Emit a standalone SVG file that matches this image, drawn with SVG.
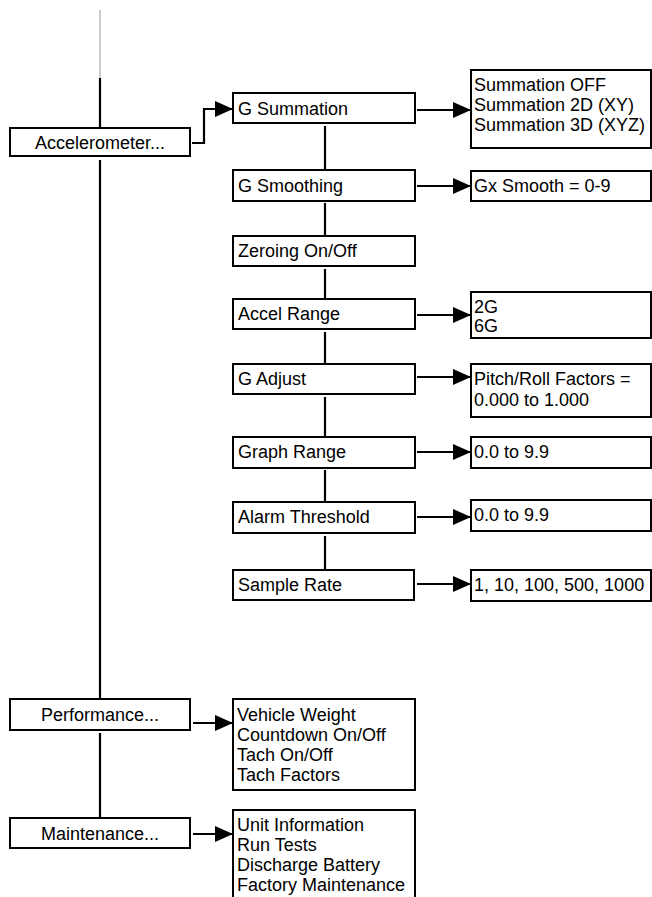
<svg xmlns="http://www.w3.org/2000/svg" width="652" height="897" viewBox="0 0 652 897">
<style>
.box{fill:#fff;stroke:#000;stroke-width:2}
.t{font-family:"Liberation Sans",Arial,sans-serif;font-size:18px;fill:#000}
.c{text-anchor:middle}
.ln{fill:none;stroke:#000;stroke-width:2.2}
</style>
<defs>
<marker id="ah" markerUnits="userSpaceOnUse" markerWidth="18" markerHeight="18" viewBox="0 0 18 18" refX="18" refY="9" orient="auto">
<path d="M0,1 L18,9 L0,17 Z" fill="#000"/>
</marker>
</defs>
<rect width="652" height="897" fill="#fff"/>
<g id="connectors">
<line x1="100" y1="10" x2="100" y2="78" stroke="#999" stroke-width="1"/>
<line class="ln" x1="100" y1="78" x2="100" y2="128"/>
<line class="ln" x1="100" y1="160" x2="100" y2="699"/>
<line class="ln" x1="100" y1="733" x2="100" y2="818"/>
<polyline class="ln" points="192,143 204,143 204,109 233,109" marker-end="url(#ah)"/>
<line class="ln" x1="325" y1="126" x2="325" y2="169"/>
<line class="ln" x1="325" y1="203" x2="325" y2="235"/>
<line class="ln" x1="325" y1="269" x2="325" y2="298"/>
<line class="ln" x1="325" y1="332" x2="325" y2="363"/>
<line class="ln" x1="325" y1="397" x2="325" y2="436"/>
<line class="ln" x1="325" y1="470" x2="325" y2="501"/>
<line class="ln" x1="325" y1="536" x2="325" y2="569"/>
<line class="ln" x1="417" y1="110" x2="471" y2="110" marker-end="url(#ah)"/>
<line class="ln" x1="417" y1="186" x2="471" y2="186" marker-end="url(#ah)"/>
<line class="ln" x1="417" y1="315" x2="471" y2="315" marker-end="url(#ah)"/>
<line class="ln" x1="417" y1="377" x2="471" y2="377" marker-end="url(#ah)"/>
<line class="ln" x1="417" y1="452" x2="471" y2="452" marker-end="url(#ah)"/>
<line class="ln" x1="417" y1="517" x2="471" y2="517" marker-end="url(#ah)"/>
<line class="ln" x1="417" y1="584" x2="471" y2="584" marker-end="url(#ah)"/>
<line class="ln" x1="193" y1="723" x2="233" y2="723" marker-end="url(#ah)"/>
<line class="ln" x1="193" y1="834" x2="233" y2="834" marker-end="url(#ah)"/>
</g>
<g id="accelerometer"><rect class="box" x="10" y="128" width="180" height="28"/><text class="t c" x="100" y="149">Accelerometer...</text></g>
<g id="g-summation"><rect class="box" x="233" y="93" width="182" height="30"/><text class="t" x="238" y="115">G Summation</text></g>
<g id="g-smoothing"><rect class="box" x="233" y="170" width="182" height="31"/><text class="t" x="238" y="192">G Smoothing</text></g>
<g id="zeroing"><rect class="box" x="233" y="236" width="182" height="30"/><text class="t" x="238" y="257">Zeroing On/Off</text></g>
<g id="accel-range"><rect class="box" x="233" y="299" width="182" height="30"/><text class="t" x="238" y="320">Accel Range</text></g>
<g id="g-adjust"><rect class="box" x="233" y="364" width="182" height="30"/><text class="t" x="238" y="385">G Adjust</text></g>
<g id="graph-range"><rect class="box" x="233" y="437" width="182" height="31"/><text class="t" x="238" y="458">Graph Range</text></g>
<g id="alarm-threshold"><rect class="box" x="233" y="502" width="182" height="31"/><text class="t" x="238" y="523">Alarm Threshold</text></g>
<g id="sample-rate"><rect class="box" x="233" y="570" width="181" height="30"/><text class="t" x="238" y="591">Sample Rate</text></g>
<g id="summation-options"><rect class="box" x="471" y="70" width="180" height="78"/><text class="t" x="474" y="91">Summation OFF</text><text class="t" x="474" y="111">Summation 2D (XY)</text><text class="t" x="474" y="131">Summation 3D (XYZ)</text></g>
<g id="smooth-options"><rect class="box" x="471" y="171" width="180" height="30"/><text class="t" x="474" y="192">Gx Smooth = 0-9</text></g>
<g id="range-options"><rect class="box" x="471" y="292" width="180" height="46"/><text class="t" x="474" y="313">2G</text><text class="t" x="474" y="332">6G</text></g>
<g id="adjust-options"><rect class="box" x="471" y="364" width="180" height="53"/><text class="t" x="474" y="385">Pitch/Roll Factors =</text><text class="t" x="474" y="406">0.000 to 1.000</text></g>
<g id="graph-options"><rect class="box" x="471" y="437" width="180" height="31"/><text class="t" x="474" y="458">0.0 to 9.9</text></g>
<g id="alarm-options"><rect class="box" x="471" y="500" width="180" height="31"/><text class="t" x="474" y="521">0.0 to 9.9</text></g>
<g id="rate-options"><rect class="box" x="471" y="570" width="180" height="31"/><text class="t" x="474" y="591">1, 10, 100, 500, 1000</text></g>
<g id="performance"><rect class="box" x="10" y="699" width="180" height="31"/><text class="t c" x="100" y="721">Performance...</text></g>
<g id="performance-options"><rect class="box" x="233" y="699" width="182" height="91"/><text class="t" x="237" y="721">Vehicle Weight</text><text class="t" x="237" y="741">Countdown On/Off</text><text class="t" x="237" y="761">Tach On/Off</text><text class="t" x="237" y="781">Tach Factors</text></g>
<g id="maintenance"><rect class="box" x="10" y="818" width="180" height="30"/><text class="t c" x="100" y="840">Maintenance...</text></g>
<g id="maintenance-options"><rect class="box" x="233" y="810" width="182" height="100"/><text class="t" x="237" y="831">Unit Information</text><text class="t" x="237" y="851">Run Tests</text><text class="t" x="237" y="871">Discharge Battery</text><text class="t" x="237" y="891">Factory Maintenance</text></g>
</svg>
